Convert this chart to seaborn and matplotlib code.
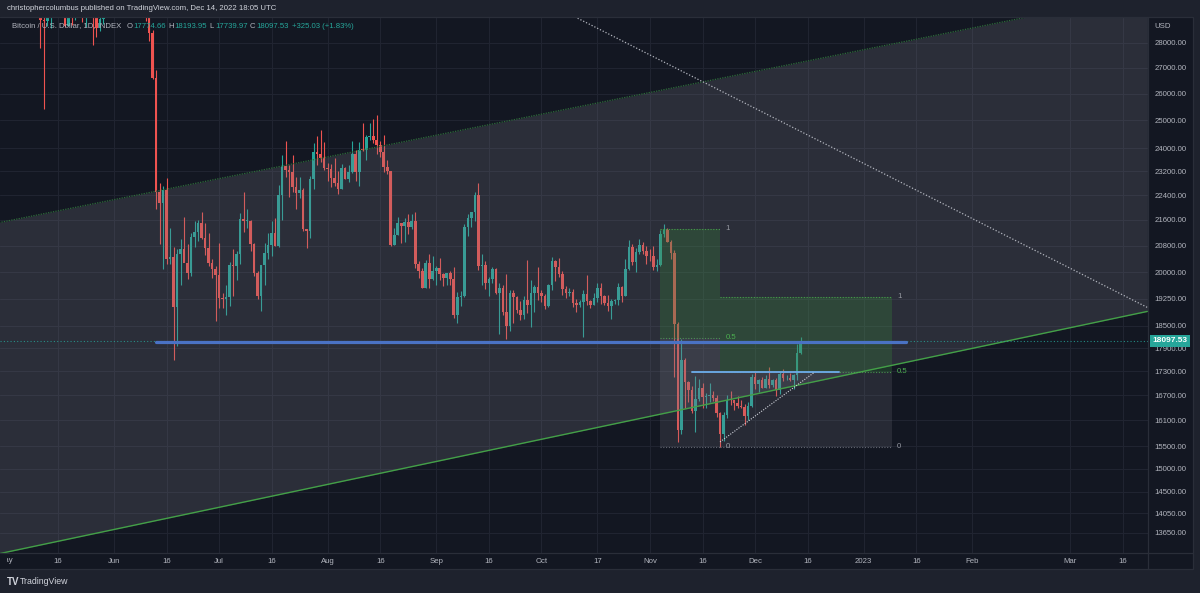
import numpy as np
import pandas as pd
import matplotlib
matplotlib.use("Agg")
import matplotlib.pyplot as plt
import matplotlib.dates as mdates
from matplotlib.lines import Line2D
from matplotlib.patches import Rectangle
from matplotlib.ticker import FixedLocator, NullLocator
from matplotlib.transforms import Bbox, TransformedBbox
import seaborn as sns

sns.set_style("dark")
plt.rcParams["font.family"] = ["Liberation Sans", "DejaVu Sans"]

# ---- daily candles, 2022-05-09 .. 2022-12-14 ----
start_date = "2022-05-09"
open_px = [
    # May 9-31
    34060, 30300, 31020, 28940, 28900, 29280, 30080, 31300, 29860, 30420, 28700, 30290,
    29190, 29430, 30290, 29100, 29650, 29540, 29200, 28630, 29020, 29450, 31730,
    # Jun
    31800, 29800, 30460, 29700, 29860, 29900, 31370, 31130, 30200, 30110, 29090, 28420,
    26580, 22490, 22140, 22580, 20390, 20450, 19010, 20550, 20710, 20290, 19970, 21080,
    21230, 21490, 21040, 20730, 20270, 20100,
    # Jul
    19940, 19260, 19240, 19300, 20230, 20200, 20550, 21620, 21580, 21580, 20840, 19970,
    19320, 20210, 20570, 20820, 21190, 20790, 22420, 23390, 23230, 23160, 22680, 22460,
    22580, 21310, 21250, 22950, 23850, 23780, 23650,
    # Aug
    23310, 23270, 22980, 22820, 22620, 23310, 22950, 23180, 23810, 23160, 23950, 23940,
    24400, 24440, 24300, 24100, 23860, 23340, 23200, 20830, 21140, 21520, 21400, 21530,
    21370, 21560, 20240, 20030, 19550, 20290, 19800,
    # Sep
    20050, 20130, 19950, 19830, 19990, 19800, 18790, 19290, 19320, 21370, 21650, 21840,
    22400, 20180, 20230, 19700, 19800, 20110, 19420, 19540, 18880, 18490, 19400, 19290,
    18930, 18800, 19220, 19080, 19410, 19590,
    # Oct
    19420, 19310, 19050, 19630, 20330, 20160, 19960, 19530, 19420, 19440, 19130, 19060,
    19150, 19380, 19180, 19070, 19260, 19550, 19330, 19130, 19040, 19170, 19210, 19570,
    19330, 20090, 20770, 20300, 20600, 20820, 20630,
    # Nov
    20490, 20480, 20160, 20210, 21150, 21300, 20920, 20590, 18540, 15880, 17590, 17040,
    16830, 16330, 16620, 16880, 16660, 16690, 16700, 16630, 16270, 15780, 16220, 16600,
    16580, 16520, 16450, 16430, 16210, 16440,
    # Dec 1-14
    17170, 16980, 17090, 16890, 17110, 16970, 17090, 16840, 17230, 17130, 17130, 17090,
    17210, 17774.66,
]
high_px = [
    34240, 32660, 32140, 30030, 30970, 30300, 31440, 31300, 30760, 30670, 30540, 30740,
    29620, 30430, 30650, 29830, 30200, 29840, 29350, 29240, 29570, 32200, 32370,
    31980, 30650, 30650, 29950, 30150, 31700, 31550, 31310, 30660, 30330, 29430, 28540,
    26900, 22800, 22700, 22970, 21340, 20760, 20700, 21000, 21700, 20850, 21200, 21560,
    21600, 21870, 21500, 21200, 20400, 20180,
    20890, 19400, 19640, 20300, 20700, 20640, 21820, 22500, 21950, 21600, 20870, 20050,
    20200, 20870, 21200, 21560, 21650, 22750, 23760, 24250, 23400, 23750, 22990, 23000,
    22640, 21330, 23050, 24190, 24420, 24650, 24200,
    23470, 23440, 23650, 23220, 23450, 23350, 23400, 24250, 23940, 24220, 24900, 24450,
    24900, 25050, 25200, 24250, 24450, 23600, 23200, 21360, 21680, 21520, 21660, 21800,
    21800, 21860, 20350, 20140, 20380, 20550, 20480,
    20200, 20430, 19980, 19990, 20040, 20170, 19440, 19460, 21470, 21790, 21850, 22490,
    22800, 20540, 20330, 19870, 20170, 20130, 19680, 19640, 19950, 19500, 19500, 19310,
    19180, 19310, 20360, 19780, 19630, 20150,
    19480, 19390, 19660, 20460, 20360, 20440, 20050, 19600, 19550, 19520, 19250, 19210,
    19500, 19930, 19220, 19400, 19680, 19700, 19350, 19340, 19250, 19250, 19690, 19600,
    20400, 20980, 20860, 20740, 21000, 20900, 20800,
    20700, 20780, 20390, 21300, 21480, 21350, 20990, 20670, 18590, 18150, 17650, 17070,
    16930, 17180, 17120, 17000, 16750, 17000, 16800, 16700, 16290, 16300, 16710, 16800,
    16600, 16690, 16590, 16480, 16540, 17240,
    17320, 17100, 17150, 17200, 17420, 17110, 17130, 17300, 17350, 17220, 17260, 17240,
    18000, 18193.95,
]
low_px = [
    30030, 29730, 27780, 25400, 28700, 28630, 29500, 29100, 29460, 28660, 28690, 28740,
    28950, 29250, 28860, 28650, 29310, 27900, 28260, 28480, 28810, 29300, 31200,
    29310, 29600, 29290, 29460, 29490, 29880, 29230, 29900, 29950, 28900, 28100, 26550,
    21950, 20840, 20100, 20250, 20240, 17600, 17960, 19650, 20350, 19800, 19900, 20750,
    20950, 21000, 20520, 20200, 19850, 18630,
    18980, 18980, 18780, 19050, 19330, 19770, 20250, 21230, 21350, 20650, 19900, 19250,
    18900, 19650, 20400, 20500, 20790, 20760, 21600, 23000, 22340, 22500, 21960, 22300,
    21250, 20730, 21050, 22600, 23430, 23520, 23230,
    22860, 22680, 22720, 22450, 22600, 22940, 22850, 23150, 22880, 22690, 23900, 23600,
    24300, 24170, 23800, 23700, 23180, 23120, 20800, 20820, 21120, 20890, 20900, 21150,
    21310, 20130, 19840, 19550, 19550, 19550, 19790,
    19650, 19770, 19610, 19630, 19640, 18700, 18560, 19030, 19300, 21110, 21380, 21560,
    20080, 19630, 19520, 19330, 19700, 19370, 18270, 18800, 18150, 18360, 18560, 18840,
    18650, 18680, 18840, 18470, 18860, 19200,
    19160, 18960, 19000, 19500, 19750, 19870, 19340, 19260, 19320, 19020, 18870, 19000,
    18190, 19080, 18980, 19060, 19160, 19100, 19070, 18900, 18670, 19110, 19070, 19160,
    19310, 20060, 20220, 20000, 20560, 20550, 20240,
    20350, 20060, 20050, 20180, 21080, 20900, 20400, 17170, 15590, 15780, 16400, 16550,
    16270, 15820, 16560, 16400, 16400, 16550, 16570, 16180, 15480, 15630, 16160, 16460,
    16350, 16400, 16400, 16000, 16110, 16430,
    16860, 16790, 16880, 16880, 16880, 16910, 16680, 16740, 17070, 17090, 17070, 16870,
    17090, 17739.97,
]
close_px = [
    30300, 31020, 28940, 28900, 29280, 30080, 31300, 29860, 30420, 28700, 30290, 29190,
    29430, 30290, 29100, 29650, 29540, 29200, 28630, 29020, 29450, 31730, 31800,
    29800, 30460, 29700, 29860, 29900, 31370, 31130, 30200, 30110, 29090, 28420, 26580,
    22490, 22140, 22580, 20390, 20450, 19010, 20550, 20710, 20290, 19970, 21080, 21230,
    21490, 21040, 20730, 20270, 20100, 19940,
    19260, 19240, 19300, 20230, 20200, 20550, 21620, 21580, 21580, 20840, 19970, 19320,
    20210, 20570, 20820, 21190, 20790, 22420, 23390, 23230, 23160, 22680, 22460, 22580,
    21310, 21250, 22950, 23850, 23780, 23650, 23310,
    23270, 22980, 22820, 22620, 23310, 22950, 23180, 23810, 23160, 23950, 23940, 24400,
    24440, 24300, 24100, 23860, 23340, 23200, 20830, 21140, 21520, 21400, 21530, 21370,
    21560, 20240, 20030, 19550, 20290, 19800, 20050,
    20130, 19950, 19830, 19990, 19800, 18790, 19290, 19320, 21370, 21650, 21840, 22400,
    20180, 20230, 19700, 19800, 20110, 19420, 19540, 18880, 18490, 19400, 19290, 18930,
    18800, 19220, 19080, 19410, 19590, 19420,
    19310, 19050, 19630, 20330, 20160, 19960, 19530, 19420, 19440, 19130, 19060, 19150,
    19380, 19180, 19070, 19260, 19550, 19330, 19130, 19040, 19170, 19210, 19570, 19330,
    20090, 20770, 20300, 20600, 20820, 20630, 20490,
    20480, 20160, 20210, 21150, 21300, 20920, 20590, 18540, 15880, 17590, 17040, 16830,
    16330, 16620, 16880, 16660, 16690, 16700, 16630, 16270, 15780, 16220, 16600, 16580,
    16520, 16450, 16430, 16210, 16440, 17170,
    16980, 17090, 16890, 17110, 16970, 17090, 16840, 17230, 17130, 17130, 17090, 17210,
    17775, 18097.53,
]
last_change = "+325.03 (+1.83%)"

# ---- drawing tools (anchor date, price) ----
channel_dates = ["2022-04-28", "2023-03-23"]
channel_upper = [21490, 30130]
channel_lower = [13224, 18890]
fan_dates = ["2022-10-01", "2023-03-23"]
fan_prices = [29830, 19000]
support_dates = ["2022-06-13", "2023-01-13"]
support_price = 18070
range_dates = ["2022-11-13", "2022-12-25"]
range_price = 17280
trend_dates = ["2022-11-21", "2022-12-18"]
trend_prices = [15600, 17280]
box1_dates = ["2022-11-04", "2022-11-21"]
box1_levels = [21320, 18170, 15485]   # 1, 0.5, 0
box2_dates = ["2022-11-21", "2023-01-09"]
box2_levels = [19294, 17285, 15485]
level_names = ["1", "0.5", "0"]

price_ticks = [28000, 27000, 26000, 25000, 24000, 23200, 22400, 21600, 20800, 20000,
               19250, 18500, 17900, 17300, 16700, 16100, 15500, 15000, 14500, 14050, 13650]
time_ticks = ["2022-05-16", "2022-06-01", "2022-06-16", "2022-07-01", "2022-07-16",
              "2022-08-01", "2022-08-16", "2022-09-01", "2022-09-16", "2022-10-01",
              "2022-10-17", "2022-11-01", "2022-11-16", "2022-12-01", "2022-12-16",
              "2023-01-01", "2023-01-16", "2023-02-01", "2023-03-01", "2023-03-16"]
time_labels = ["16", "Jun", "16", "Jul", "16", "Aug", "16", "Sep", "16", "Oct", "17",
               "Nov", "16", "Dec", "16", "2023", "16", "Feb", "Mar", "16"]

# ---- colours ----
BG = "#131722"
OUTER = "#1e222d"
BORDER = "#2a2e39"
GRID = "#202431"
TXT = "#b2b5be"
UP = "#26a69a"
DOWN = "#ef5350"
GREEN = "#4caf50"
FS = 5.6

W, H = 1200, 593
fig = plt.figure(figsize=(12, 5.93), dpi=100)
fig.patch.set_facecolor(OUTER)

def fx(px):
    return px / W

def fy(py):
    return 1 - py / H

# dark chart area (pane + axes strips)
bg_ax = fig.add_axes([0, fy(569), fx(1193), fy(17) - fy(569)], zorder=0)
bg_ax.set_axis_off()
bg_ax.add_patch(Rectangle((0, 0), 1, 1, transform=bg_ax.transAxes, fc=BG, ec="none"))

ax = fig.add_axes([0, fy(553), fx(1148), fy(17) - fy(553)], zorder=1)
ax.set_facecolor(BG)
for s in ax.spines.values():
    s.set_visible(False)

d2n = lambda s: mdates.date2num(pd.Timestamp(s))
ref = d2n("2022-06-01")
px_day = 3.503
ax.set_yscale("log")

# candles
df = pd.DataFrame({"date": pd.date_range(start_date, periods=len(close_px), freq="D"),
                   "open": open_px, "high": high_px, "low": low_px, "close": close_px})
xs = mdates.date2num(df["date"])
cols = np.where(df["close"] >= df["open"], UP, DOWN)
ax.vlines(xs, df["low"], df["high"], colors=cols, lw=0.8, zorder=2)
lo = np.minimum(df["open"], df["close"])
hi = np.maximum(df["open"], df["close"])
ax.bar(xs, np.maximum(hi - lo, lo * 0.0009), bottom=lo, width=0.74, color=cols,
       lw=0, zorder=2.1)

# parallel channel
cx = [d2n(d) for d in channel_dates]
ax.fill_between(cx, channel_lower, channel_upper, color="#787b86", alpha=0.24, lw=0, zorder=3)
sns.lineplot(x=cx, y=channel_lower, ax=ax, color="#43a047", lw=1.0, zorder=4)
sns.lineplot(x=cx, y=channel_upper, ax=ax, color="#2e6b3a", lw=0.9, ls=(0, (1, 1)), zorder=4)

# long dotted trendline
sns.lineplot(x=[d2n(d) for d in fan_dates], y=fan_prices, ax=ax, color=TXT, lw=0.9,
             ls=(0, (1, 1.5)), zorder=4)

# fib-style boxes
for bd, lv in [(box1_dates, box1_levels), (box2_dates, box2_levels)]:
    b0, b1 = d2n(bd[0]), d2n(bd[1])
    ax.fill_between([b0, b1], lv[1], lv[0], color="#388e3c", alpha=0.27, lw=0, zorder=3)
    ax.fill_between([b0, b1], lv[2], lv[1], color="#787b86", alpha=0.2, lw=0, zorder=3)
    for v, name in zip(lv, level_names):
        c = "#787b86" if name == "0" else GREEN
        ax.plot([b0, b1], [v, v], color=c, lw=0.8, ls=(0, (1, 1.5)), alpha=0.8, zorder=4)
        ax.annotate(name, xy=(b1, v), xytext=(4, 0), textcoords="offset points",
                    va="center", ha="left", fontsize=FS,
                    color=GREEN if name == "0.5" else "#9598a1", zorder=6)

# horizontal levels and short trendline
sns.lineplot(x=[d2n(d) for d in support_dates], y=[support_price] * 2, ax=ax,
             color="#4a72c4", lw=2.3, zorder=5)
sns.lineplot(x=[d2n(d) for d in range_dates], y=[range_price] * 2, ax=ax,
             color="#6aa6e0", lw=1.4, zorder=5)
sns.lineplot(x=[d2n(d) for d in trend_dates], y=trend_prices, ax=ax, color="#d1d4dc",
             lw=0.8, ls=(0, (1, 1.3)), zorder=5)

# ticks, limits and grid (after seaborn, which may touch the axes)
ax.set_xlim(ref + (0 - 114) / px_day, ref + (1148 - 114) / px_day)
ax.set_ylim(28000 * np.exp(-(553 - 43) / 682), 28000 * np.exp((43 - 17) / 682))
ax.yaxis.set_major_locator(FixedLocator(price_ticks))
ax.yaxis.set_minor_locator(NullLocator())
ax.set_yticklabels([f"{v:.2f}" for v in price_ticks])
ax.yaxis.tick_right()
ax.set_xticks([d2n(t) for t in time_ticks])
ax.set_xticklabels(time_labels)
ax.xaxis.set_minor_locator(NullLocator())
ax.tick_params(axis="y", length=0, pad=4.5, labelsize=FS, labelcolor=TXT)
ax.tick_params(axis="x", length=0, pad=3.5, labelsize=FS, labelcolor=TXT)
ax.grid(True, color=GRID, lw=0.8)
ax.set_axisbelow(True)
ax.set_xlabel("")
ax.set_ylabel("")

# last price line + label
last = close_px[-1]
ax.axhline(last, color=UP, lw=0.8, ls=(0, (1, 2)), alpha=0.8, zorder=4)
ax.annotate(f"{last:.2f}", xy=(1.0, last), xycoords=ax.get_yaxis_transform(),
            xytext=(3.2, 0), textcoords="offset points", va="center", ha="left",
            fontsize=FS + 0.4, color="white", fontweight="bold", annotation_clip=False,
            bbox=dict(boxstyle="square,pad=0.3", fc="#26a69a", ec="none"), zorder=10)

# "May" label, partly cut at the left edge
t = ax.text(d2n("2022-05-01"), -7.5 / (553 - 17), "May", transform=ax.get_xaxis_transform(),
            ha="center", va="center", fontsize=FS, color=TXT)
t.set_clip_box(TransformedBbox(Bbox([[fx(7), fy(569)], [fx(1148), fy(553)]]), fig.transFigure))
t.set_clip_on(True)

# borders
for (x0, y0, x1, y1) in [(0, 17, 1193, 17), (0, 553, 1193, 553), (0, 569, 1193, 569),
                         (1148, 17, 1148, 569), (1193, 17, 1193, 569)]:
    fig.add_artist(Line2D([fx(x0), fx(x1)], [fy(y0), fy(y1)], color=BORDER, lw=0.9,
                          transform=fig.transFigure, zorder=5))

# header, legend, footer
fig.text(fx(7), fy(9), "christophercolumbus published on TradingView.com, Dec 14, 2022 18:05 UTC",
         fontsize=FS, color="#d1d4dc", va="center")
fig.text(fx(12), fy(26), "Bitcoin / U.S. Dollar, 1D, INDEX", fontsize=FS, color=TXT,
         va="center", zorder=6)
for px0, letter, val in [(127, "O", open_px[-1]), (168, "H", high_px[-1]),
                         (209, "L", low_px[-1]), (250, "C", close_px[-1])]:
    fig.text(fx(px0), fy(26), letter, fontsize=FS, color=TXT, va="center", zorder=6)
    fig.text(fx(px0 + 6.5), fy(26), f"{val:.2f}", fontsize=FS, color=UP, va="center", zorder=6)
fig.text(fx(292), fy(26), last_change, fontsize=FS, color=UP, va="center", zorder=6)
fig.text(fx(1154), fy(26), "USD", fontsize=FS, color=TXT, va="center", zorder=6)
fig.text(fx(7), fy(582), "TV", fontsize=7, color="#d1d4dc", va="center", fontweight="bold")
fig.text(fx(20), fy(582), "TradingView", fontsize=6.3, color="#d1d4dc", va="center")

fig.savefig("out.png", dpi=100, facecolor=OUTER)
